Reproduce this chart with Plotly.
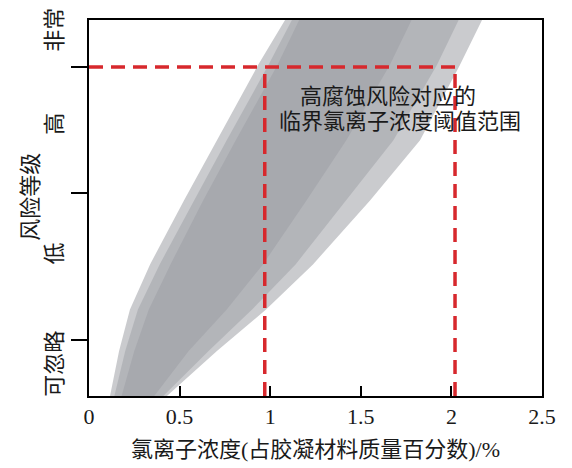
import plotly.graph_objects as go

# risk levels (y is a relative 0-1 risk scale)
risk_labels = ['可忽略', '低', '高', '非常']
risk_label_pos = [0.077, 0.37, 0.715, 0.965]
risk_bounds = [0.149, 0.54, 0.875]

# critical chloride range for the "high" level
threshold_y = 0.875
threshold_x = [0.97, 2.02]

# edges of the grey band (outer, middle, darker core)
band_y = [0.0, 0.12, 0.23, 0.35, 0.52, 0.68, 0.88, 1.0]
band_left = [0.116, 0.166, 0.226, 0.337, 0.524, 0.706, 0.933, 1.082]
band_right = [0.430, 0.706, 0.977, 1.236, 1.551, 1.827, 2.047, 2.169]
mid_left = [0.14, 0.20, 0.27, 0.39, 0.58, 0.76, 0.99, 1.12]
mid_right = [0.41, 0.66, 0.90, 1.14, 1.42, 1.68, 1.92, 2.04]
core_left = [0.18, 0.25, 0.33, 0.45, 0.63, 0.81, 1.04, 1.16]
core_right = [0.36, 0.55, 0.76, 0.96, 1.20, 1.42, 1.66, 1.78]

x_ticks = [0, 0.5, 1, 1.5, 2, 2.5]
x_ticktext = ['0', '0.5', '1', '1.5', '2', '2.5']

FONT = 'Liberation Serif, Noto Sans CJK SC'
RED = '#d7282d'
BAND = '100,104,112'

fig = go.Figure()

for left, right, alpha in [(band_left, band_right, 0.34),
                           (mid_left, mid_right, 0.22),
                           (core_left, core_right, 0.15)]:
    fig.add_trace(go.Scatter(
        x=left + right[::-1],
        y=band_y + band_y[::-1],
        fill='toself', mode='lines', line=dict(width=0),
        fillcolor='rgba(%s,%s)' % (BAND, alpha), hoverinfo='skip', showlegend=False
    ))

# dashed threshold lines
fig.add_trace(go.Scatter(
    x=[0, threshold_x[1]], y=[threshold_y, threshold_y],
    mode='lines', line=dict(color=RED, width=3.5, dash='14px,8px'),
    hoverinfo='skip', showlegend=False
))
for tx in threshold_x:
    fig.add_trace(go.Scatter(
        x=[tx, tx], y=[0, threshold_y],
        mode='lines', line=dict(color=RED, width=3.5, dash='14px,8px'),
        hoverinfo='skip', showlegend=False
    ))

fig.add_annotation(x=1.65, y=0.797, text='高腐蚀风险对应的', showarrow=False,
                   font=dict(family=FONT, size=22, color='#1a1a1a'))
fig.add_annotation(x=1.716, y=0.731, text='临界氯离子浓度阈值范围', showarrow=False,
                   font=dict(family=FONT, size=22, color='#1a1a1a'))

# y axis title as a rotated annotation so it can sit exactly where the reference has it
fig.add_annotation(x=-0.128, y=0.53, xref='paper', yref='paper', text='风险等级',
                   textangle=-90, showarrow=False, xanchor='center', yanchor='middle',
                   font=dict(family=FONT, size=22, color='#1a1a1a'))

fig.update_layout(
    width=572, height=468,
    margin=dict(l=81, r=38, t=12, b=80),
    paper_bgcolor='white', plot_bgcolor='white',
    font=dict(family=FONT, size=22, color='#1a1a1a'),
    showlegend=False,
    xaxis=dict(
        range=[0, 2.5], tickmode='array', tickvals=x_ticks, ticktext=x_ticktext,
        ticks='inside', ticklen=10, tickwidth=1.5, tickcolor='black',
        showline=True, linecolor='black', linewidth=1.5, mirror=True,
        showgrid=False, zeroline=False, automargin=False, ticklabeloverflow='allow',
        title=dict(text='氯离子浓度(占胶凝材料质量百分数)/%', standoff=13,
                   font=dict(size=22))
    ),
    yaxis=dict(
        range=[0, 1], tickmode='array', tickvals=risk_label_pos, ticktext=risk_labels,
        tickangle=-90, ticks='', ticklabelstandoff=16, ticklabeloverflow='allow',
        minor=dict(tickmode='array', tickvals=risk_bounds, ticks='outside',
                   ticklen=16, tickwidth=1.5, tickcolor='black'),
        showline=True, linecolor='black', linewidth=1.5, mirror=True,
        showgrid=False, zeroline=False, automargin=False
    )
)

fig.write_html('out.html')
